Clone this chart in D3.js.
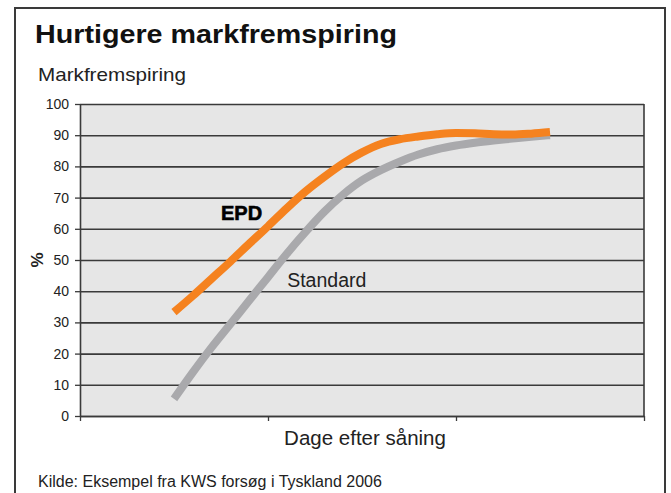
<!DOCTYPE html>
<html>
<head>
<meta charset="utf-8">
<script src="https://cdn.jsdelivr.net/npm/d3@7"></script>
<style>
 body{margin:0;background:#fff;}
 svg text{font-family:"Liberation Sans",Arial,Helvetica,sans-serif;}
 .grid line{stroke:#3a3a3a;stroke-width:1.6;}
 .grid path{display:none;}
 .yaxis path,.xaxis path{stroke:#3a3a3a;stroke-width:1.6;}
 .yaxis line,.xaxis line{stroke:#3a3a3a;stroke-width:1.3;}
 .yaxis text{font-size:14px;fill:#222;}
</style>
</head>
<body>
<script>
//Chart data
var days      = [5,6,7,8,9,10,11,12,13,14,15,16,17,18,19,20,21,22,23,24,25];
var epd       = [33.3,38.5,44,49.5,55.2,60.8,66.6,72,76.7,81,84.5,87.2,88.7,89.6,90.3,90.7,90.6,90.3,90.2,90.5,91];
var standard  = [5.5,14,22,29.5,37,44.5,52,59,65.5,71,75.5,78.8,81.5,83.8,85.5,86.7,87.6,88.3,88.9,89.5,90];
var yTicks    = [0,10,20,30,40,50,60,70,80,90,100];
var xTicks    = [0,10,20,30];

var title     = "Hurtigere markfremspiring";
var subTitle  = "Markfremspiring";
var yLabel    = "%";
var xLabel    = "Dage efter såning";
var source    = "Kilde: Eksempel fra KWS forsøg i Tyskland 2006";

var W = 671, H = 493;
var margin = {top: 104, right: 27, bottom: 77, left: 80};
var width  = W - margin.left - margin.right;	//plot width
var height = H - margin.top - margin.bottom;	//plot height

var svg = d3.select("body").append("svg")
 .attr("width", W)
 .attr("height", H);

svg.append("rect")			//outer frame
 .attr("x", 15).attr("y", 8)
 .attr("width", 650).attr("height", 500)
 .attr("fill", "none")
 .attr("stroke", "#3a3a3a")
 .attr("stroke-width", 2);

svg.append("text")			//title
 .attr("x", 35).attr("y", 42.5)
 .attr("textLength", 362).attr("lengthAdjust", "spacingAndGlyphs")
 .style("font-size", "25px").style("font-weight", "bold").style("fill", "#111")
 .text(title);

svg.append("text")			//subtitle
 .attr("x", 38).attr("y", 81)
 .attr("textLength", 148).attr("lengthAdjust", "spacingAndGlyphs")
 .style("font-size", "19px").style("fill", "#222")
 .text(subTitle);

var g = svg.append("g")
 .attr("transform", "translate(" + margin.left + "," + margin.top + ")");

var xScale = d3.scaleLinear().domain([0, 30]).range([0, width]);
var yScale = d3.scaleLinear().domain([0, 100]).range([height, 0]);

g.append("rect")			//plot background
 .attr("width", width).attr("height", height)
 .attr("fill", "#e6e6e6");

g.append("g")				//horizontal grid lines
 .attr("class", "grid")
 .call(d3.axisLeft(yScale).tickValues(yTicks).tickSize(-width).tickFormat(""));

g.append("line")			//right border of plot
 .attr("x1", width).attr("x2", width)
 .attr("y1", 0).attr("y2", height)
 .attr("stroke", "#3a3a3a").attr("stroke-width", 1.6);

g.append("g")				//y-axis
 .attr("class", "yaxis")
 .call(d3.axisLeft(yScale).tickValues(yTicks).tickSize(5).tickSizeOuter(0).tickPadding(6));

g.append("g")				//x-axis, no labels
 .attr("class", "xaxis")
 .attr("transform", "translate(0," + height + ")")
 .call(d3.axisBottom(xScale).tickValues(xTicks).tickSize(5).tickSizeOuter(0).tickFormat(""));

var line = d3.line()
 .x(function(d, i) { return xScale(days[i]); })
 .y(function(d) { return yScale(d); })
 .curve(d3.curveMonotoneX);

g.append("path")			//Standard line
 .datum(standard)
 .attr("d", line)
 .attr("fill", "none")
 .attr("stroke", "#a9a9ac")
 .attr("stroke-width", 8);

g.append("path")			//EPD line
 .datum(epd)
 .attr("d", line)
 .attr("fill", "none")
 .attr("stroke", "#f5821f")
 .attr("stroke-width", 8);

g.append("text")			//series labels
 .attr("x", xScale(7.5)).attr("y", yScale(62.7))
 .style("font-size", "20px").style("font-weight", "900").style("fill", "#000")
 .style("stroke", "#000").style("stroke-width", 0.6)
 .text("EPD");
g.append("text")
 .attr("x", xScale(11.02)).attr("y", yScale(41.5))
 .style("font-size", "19.5px").style("fill", "#222")
 .text("Standard");

svg.append("text")			//y label
 .attr("transform", "translate(43," + (margin.top + yScale(50)) + ") rotate(-90)")
 .attr("text-anchor", "middle")
 .style("font-size", "17px").style("font-weight", "bold").style("fill", "#222")
 .text(yLabel);

svg.append("text")			//x label
 .attr("x", margin.left + width / 2 + 3).attr("y", 445)
 .attr("text-anchor", "middle")
 .style("font-size", "20.5px").style("fill", "#222")
 .text(xLabel);

svg.append("text")			//source
 .attr("x", 38).attr("y", 487)
 .style("font-size", "16px").style("fill", "#222")
 .text(source);
</script>
</body>
</html>
